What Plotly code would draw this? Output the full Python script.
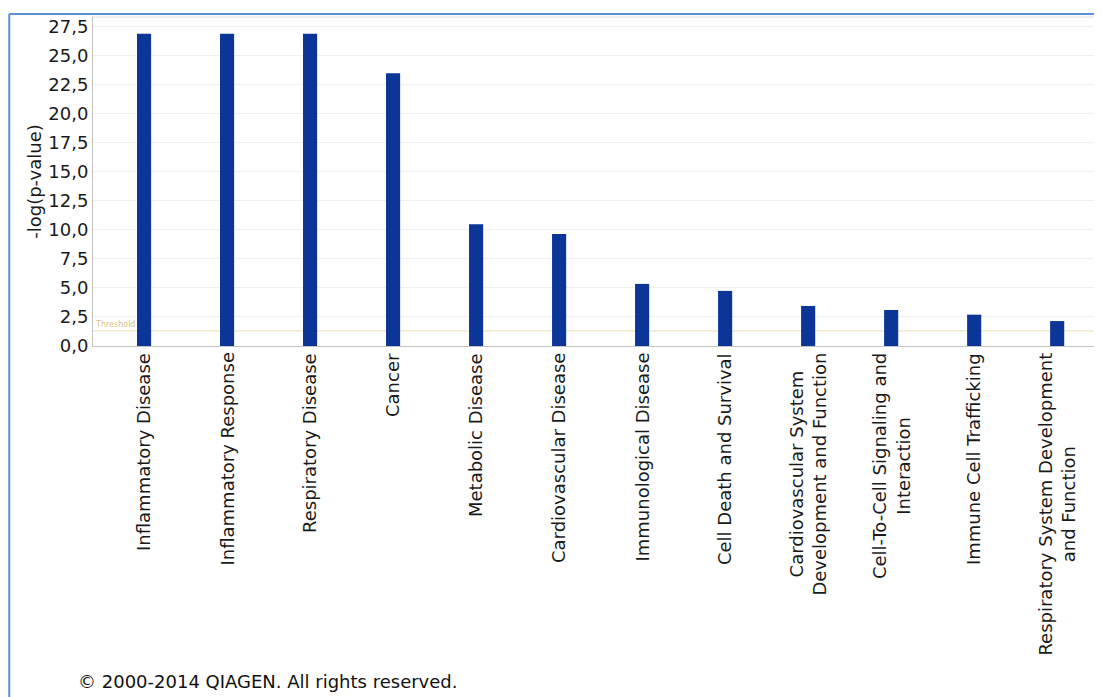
import plotly.graph_objs as go

# Categories and -log(p-value)
categories = ['Inflammatory Disease', 'Inflammatory Response', 'Respiratory Disease',
              'Cancer', 'Metabolic Disease', 'Cardiovascular Disease',
              'Immunological Disease', 'Cell Death and Survival',
              'Cardiovascular System<br>Development and Function',
              'Cell-To-Cell Signaling and<br>Interaction',
              'Immune Cell Trafficking',
              'Respiratory System Development<br>and Function']
values = [26.9, 26.9, 26.9, 23.5, 10.5, 9.65, 5.35, 4.75, 3.45, 3.1, 2.7, 2.15]
threshold = 1.3
y_ticks = [0, 2.5, 5, 7.5, 10, 12.5, 15, 17.5, 20, 22.5, 25, 27.5]

fig = go.Figure()

fig.add_trace(go.Bar(x=categories, y=values, width=0.17,
                     marker=dict(color='#0b3597', line=dict(width=0))))

# threshold line (drawn under the bars)
fig.add_hline(y=threshold, line=dict(color='#ecdcae', width=1), layer='below')

# category labels as annotations so multi-line labels stay centred
for c in categories:
    fig.add_annotation(x=c, y=-0.015, xref='x', yref='paper', text=c,
                       textangle=-90, showarrow=False, align='center',
                       xanchor='center', yanchor='top',
                       font=dict(size=18, color='#1a1a1a'))

fig.add_annotation(x=0.0, y=threshold, xref='paper', yref='y', text='Threshold',
                   showarrow=False, xanchor='left', yanchor='bottom',
                   font=dict(size=8, color='#d6c285'))

fig.add_annotation(x=-0.017, y=-1.058, xref='paper', yref='paper',
                   text='© 2000-2014 QIAGEN. All rights reserved.',
                   showarrow=False, xanchor='left', yanchor='bottom',
                   font=dict(size=18, color='#111111'))

# blue frame around the chart
fig.add_shape(type='line', xref='paper', yref='paper', x0=-0.083, x1=1.01, y0=1.009, y1=1.009,
              line=dict(color='#5b8fd6', width=2))
fig.add_shape(type='line', xref='paper', yref='paper', x0=-0.083, x1=-0.083, y0=1.009, y1=-1.2,
              line=dict(color='#5b8fd6', width=2))
fig.add_shape(type='line', xref='paper', yref='paper', x0=0, x1=1, y0=1, y1=1,
              line=dict(color='#dddddd', width=1))

# page body adds an 8px margin, so the figure is 8px smaller than the window
fig.update_layout(
    width=1094,
    height=689,
    margin=dict(l=85, r=0, t=9, b=351),
    showlegend=False,
    paper_bgcolor='white',
    plot_bgcolor='white',
    separators=',.',
    font=dict(family='DejaVu Sans', color='#1a1a1a'),
    xaxis=dict(range=[-0.615, 11.54], showticklabels=False, showgrid=False,
               showline=True, linecolor='#c4c4c4', linewidth=1, ticks='', zeroline=False),
    yaxis=dict(range=[0, 28.35], tickvals=y_ticks, tickformat='.1f',
               showgrid=True, gridcolor='#efefef', showline=True, linecolor='#c4c4c4',
               linewidth=1, ticks='', zeroline=False,
               tickfont=dict(size=18, color='#1a1a1a'),
               title=dict(text='-log(p-value)', font=dict(size=18, color='#1a1a1a'), standoff=2)),
)

fig.write_html("out.html")
